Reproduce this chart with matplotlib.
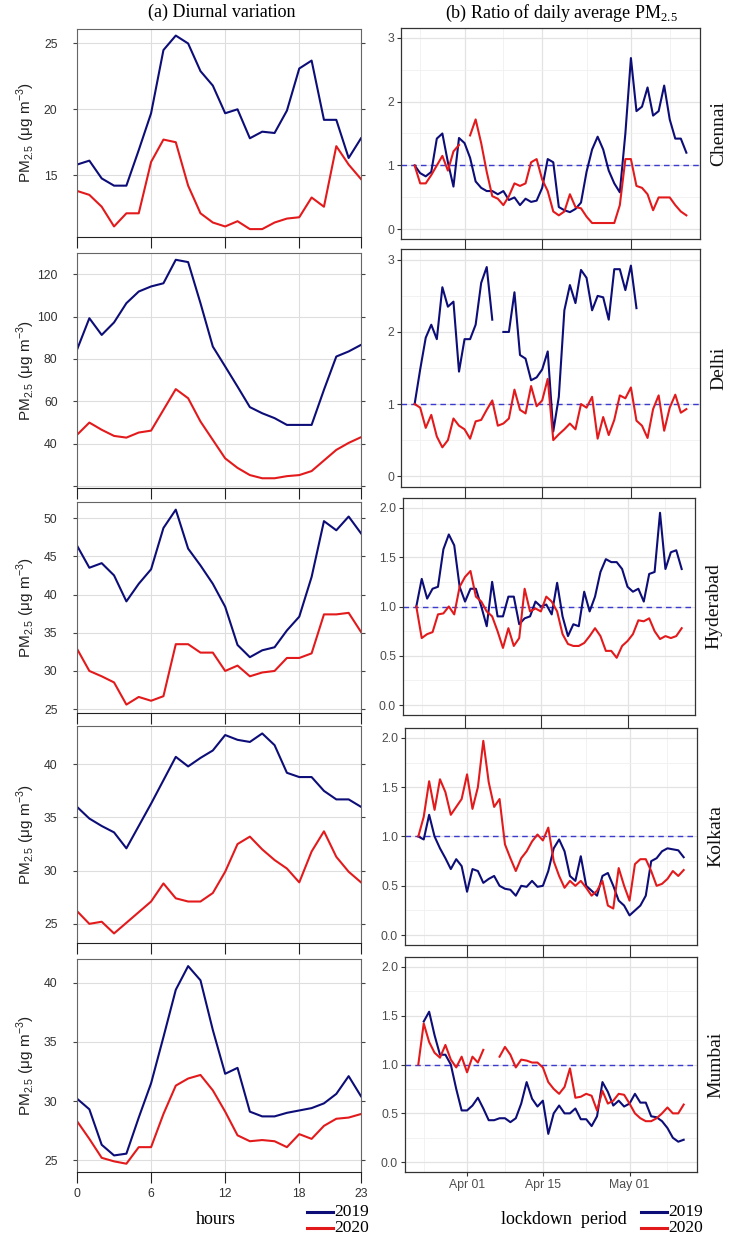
import numpy as np
import pandas as pd
import matplotlib
matplotlib.use("Agg")
import matplotlib.pyplot as plt
import matplotlib.dates as mdates
from matplotlib.lines import Line2D

nan = np.nan

cities = ["Chennai", "Delhi", "Hyderabad", "Kolkata", "Mumbai"]
hours = list(range(24))
days = pd.date_range("2020-03-23", periods=50)

# (a) diurnal PM2.5, ug/m3
chennai_hr_2019 = [15.8, 16.1, 14.75, 14.2, 14.2, 16.9, 19.7, 24.5, 25.6, 25.0, 22.9, 21.8,
                   19.7, 20.0, 17.8, 18.3, 18.2, 19.9, 23.1, 23.7, 19.2, 19.2, 16.3, 17.8]
chennai_hr_2020 = [13.8, 13.5, 12.6, 11.1, 12.1, 12.1, 16.0, 17.7, 17.5, 14.2, 12.1, 11.4,
                   11.1, 11.5, 10.9, 10.9, 11.4, 11.7, 11.8, 13.3, 12.6, 17.2, 15.8, 14.7]
delhi_hr_2019 = [84.3, 99.2, 91.3, 97.2, 106.3, 111.8, 114.2, 115.7, 126.8, 125.7, 106.3, 85.8,
                 76.4, 66.9, 57.2, 54.3, 52.0, 48.8, 48.8, 48.8, 65.4, 81.1, 83.5, 86.6]
delhi_hr_2020 = [44.1, 49.9, 46.5, 43.6, 42.8, 45.2, 46.1, 55.9, 65.7, 61.4, 50.4, 41.7,
                 33.0, 28.5, 25.1, 23.6, 23.6, 24.6, 25.1, 27.0, 32.0, 37.0, 40.3, 43.0]
hyderabad_hr_2019 = [46.4, 43.5, 44.1, 42.5, 39.1, 41.4, 43.3, 48.7, 51.1, 46.0, 43.8, 41.4,
                     38.4, 33.4, 31.8, 32.7, 33.1, 35.3, 37.1, 42.3, 49.6, 48.4, 50.2, 48.0]
hyderabad_hr_2020 = [32.9, 30.0, 29.3, 28.5, 25.6, 26.6, 26.1, 26.7, 33.5, 33.5, 32.4, 32.4,
                     30.0, 30.7, 29.3, 29.8, 30.0, 31.7, 31.7, 32.3, 37.4, 37.4, 37.6, 35.1]
kolkata_hr_2019 = [36.0, 34.9, 34.2, 33.6, 32.1, 34.2, 36.3, 38.5, 40.7, 39.8, 40.6, 41.3,
                   42.75, 42.3, 42.1, 42.9, 41.8, 39.2, 38.8, 38.8, 37.5, 36.7, 36.7, 36.0]
kolkata_hr_2020 = [26.2, 25.0, 25.2, 24.1, 25.1, 26.1, 27.1, 28.8, 27.4, 27.1, 27.1, 27.9,
                   29.9, 32.5, 33.2, 32.0, 31.0, 30.2, 28.9, 31.8, 33.7, 31.3, 29.9, 28.9]
mumbai_hr_2019 = [30.2, 29.3, 26.3, 25.4, 25.55, 28.6, 31.5, 35.4, 39.4, 41.4, 40.2, 36.0,
                  32.3, 32.8, 29.1, 28.7, 28.7, 29.0, 29.2, 29.4, 29.8, 30.6, 32.1, 30.4]
mumbai_hr_2020 = [28.3, 26.8, 25.2, 24.9, 24.7, 26.1, 26.1, 28.9, 31.3, 31.9, 32.2, 30.9,
                  29.1, 27.1, 26.6, 26.7, 26.6, 26.1, 27.2, 26.8, 27.9, 28.5, 28.6, 28.9]

# (b) ratio of daily average PM2.5, 23 Mar - 11 May
chennai_day_2019 = [1.0, 0.88, 0.83, 0.9, 1.42, 1.5, 1.05, 0.67, 1.43, 1.35, 1.12, 0.75, 0.65,
                    0.6, 0.6, 0.55, 0.6, 0.46, 0.5, 0.38, 0.48, 0.43, 0.45, 0.65, 1.1, 1.05, 0.35,
                    0.3, 0.27, 0.32, 0.42, 0.9, 1.25, 1.45, 1.25, 0.92, 0.72, 0.58, 1.5, 2.68,
                    1.85, 1.92, 2.22, 1.78, 1.85, 2.25, 1.72, 1.42, 1.42, 1.2]
chennai_day_2020 = [1.0, 0.72, 0.72, 0.85, 1.0, 1.15, 0.92, 1.22, 1.32, nan, 1.47, 1.72, 1.35,
                    0.9, 0.52, 0.48, 0.38, 0.52, 0.72, 0.68, 0.72, 1.05, 1.1, 0.78, 0.6, 0.28,
                    0.22, 0.28, 0.55, 0.35, 0.33, 0.2, 0.1, 0.1, 0.1, 0.1, 0.1, 0.38, 1.1, 1.1,
                    0.68, 0.65, 0.55, 0.3, 0.5, 0.5, 0.5, 0.38, 0.28, 0.22]
delhi_day_2019 = [1.0, 1.48, 1.92, 2.1, 1.9, 2.62, 2.35, 2.42, 1.45, 1.9, 1.9, 2.1, 2.68, 2.9,
                  2.17, nan, 2.0, 2.0, 2.55, 1.68, 1.63, 1.33, 1.37, 1.48, 1.73, 0.62, 1.1, 2.3,
                  2.65, 2.4, 2.86, 2.75, 2.3, 2.5, 2.48, 2.17, 2.87, 2.87, 2.58, 2.92, 2.33,
                  nan, nan, nan, nan, nan, nan, nan, nan, nan]
delhi_day_2020 = [1.0, 0.95, 0.67, 0.85, 0.55, 0.4, 0.5, 0.8, 0.7, 0.65, 0.52, 0.76, 0.78, 0.92,
                  1.05, 0.7, 0.73, 0.8, 1.2, 0.92, 0.87, 1.25, 0.97, 1.05, 1.35, 0.5, 0.58, 0.65,
                  0.73, 0.65, 1.0, 0.95, 1.1, 0.52, 0.82, 0.57, 0.78, 1.12, 1.08, 1.23, 0.77, 0.7,
                  0.53, 0.93, 1.12, 0.63, 0.95, 1.13, 0.88, 0.93]
hyderabad_day_2019 = [1.0, 1.28, 1.08, 1.18, 1.2, 1.58, 1.73, 1.62, 1.2, 1.05, 1.18, 1.18, 1.0,
                      0.8, 1.25, 0.9, 0.9, 1.1, 1.1, 0.82, 0.88, 0.9, 1.05, 1.0, 1.02, 0.92, 1.24,
                      0.9, 0.7, 0.82, 0.8, 1.15, 0.95, 1.1, 1.35, 1.48, 1.45, 1.45, 1.38, 1.2,
                      1.15, 1.18, 1.05, 1.33, 1.35, 1.95, 1.38, 1.55, 1.57, 1.38]
hyderabad_day_2020 = [1.0, 0.68, 0.72, 0.74, 0.92, 0.93, 1.0, 0.92, 1.2, 1.3, 1.36, 1.1, 1.05,
                      0.95, 0.9, 0.75, 0.58, 0.78, 0.6, 0.68, 1.18, 0.95, 0.98, 0.95, 1.1, 1.05,
                      0.95, 0.72, 0.62, 0.6, 0.6, 0.63, 0.7, 0.78, 0.7, 0.55, 0.55, 0.48, 0.6,
                      0.65, 0.72, 0.86, 0.85, 0.88, 0.75, 0.67, 0.7, 0.68, 0.7, 0.78]
kolkata_day_2019 = [1.0, 0.97, 1.22, 1.0, 0.88, 0.78, 0.67, 0.77, 0.7, 0.44, 0.67, 0.65, 0.53,
                    0.57, 0.6, 0.5, 0.47, 0.46, 0.4, 0.5, 0.49, 0.55, 0.49, 0.5, 0.65, 0.88,
                    0.97, 0.85, 0.6, 0.55, 0.8, 0.5, 0.45, 0.4, 0.6, 0.63, 0.5, 0.35, 0.3, 0.2,
                    0.25, 0.3, 0.4, 0.75, 0.78, 0.85, 0.88, 0.87, 0.86, 0.79]
kolkata_day_2020 = [1.0, 1.2, 1.56, 1.27, 1.58, 1.45, 1.22, 1.3, 1.38, 1.63, 1.28, 1.5, 1.97,
                    1.55, 1.3, 1.38, 0.92, 0.78, 0.65, 0.78, 0.85, 0.95, 1.02, 0.96, 1.09, 0.75,
                    0.6, 0.48, 0.55, 0.5, 0.55, 0.48, 0.4, 0.45, 0.55, 0.3, 0.27, 0.68, 0.5,
                    0.35, 0.72, 0.77, 0.77, 0.65, 0.5, 0.52, 0.57, 0.65, 0.6, 0.66]
mumbai_day_2019 = [nan, 1.44, 1.54, 1.3, 1.1, 1.1, 1.0, 0.75, 0.53, 0.53, 0.58, 0.66, 0.55, 0.43,
                   0.43, 0.45, 0.45, 0.41, 0.45, 0.6, 0.82, 0.65, 0.57, 0.63, 0.29, 0.5, 0.58,
                   0.5, 0.5, 0.55, 0.44, 0.44, 0.37, 0.47, 0.82, 0.72, 0.58, 0.63, 0.57, 0.6,
                   0.7, 0.61, 0.61, 0.47, 0.46, 0.42, 0.35, 0.25, 0.21, 0.23]
mumbai_day_2020 = [1.0, 1.42, 1.23, 1.12, 1.07, 1.2, 1.05, 0.97, 1.08, 0.92, 1.08, 1.02, 1.15,
                   nan, nan, 1.08, 1.18, 1.1, 0.97, 1.05, 1.04, 1.02, 1.02, 0.97, 0.82, 0.75,
                   0.7, 0.77, 0.96, 0.66, 0.67, 0.7, 0.68, 0.53, 0.73, 0.6, 0.63, 0.7, 0.69,
                   0.6, 0.5, 0.45, 0.42, 0.42, 0.45, 0.5, 0.56, 0.5, 0.5, 0.59]

diurnal = [(chennai_hr_2019, chennai_hr_2020), (delhi_hr_2019, delhi_hr_2020),
           (hyderabad_hr_2019, hyderabad_hr_2020), (kolkata_hr_2019, kolkata_hr_2020),
           (mumbai_hr_2019, mumbai_hr_2020)]
ratio = [(chennai_day_2019, chennai_day_2020), (delhi_day_2019, delhi_day_2020),
         (hyderabad_day_2019, hyderabad_day_2020), (kolkata_day_2019, kolkata_day_2020),
         (mumbai_day_2019, mumbai_day_2020)]

left_ylim = [(10.3, 26.1), (19, 130), (24.5, 52.1), (23.2, 43.6), (24, 42)]
left_yticks = [[15, 20, 25], [20, 40, 60, 80, 100, 120], [25, 30, 35, 40, 45, 50],
               [25, 30, 35, 40], [25, 30, 35, 40]]

BLUE = "#0d0d78"
RED = "#e31a1c"
SANS = ["Liberation Sans", "DejaVu Sans"]
SERIF = ["Liberation Serif", "DejaVu Serif"]

W, H = 729, 1237
fig = plt.figure(figsize=(W / 100, H / 100), dpi=100)


def box(x0, y0, x1, y1):
    return fig.add_axes([x0 / W, 1 - y1 / H, (x1 - x0) / W, (y1 - y0) / H])


left_boxes = [(77, 29, 361, 237), (77, 253, 361, 488), (77, 502, 361, 713),
              (77, 726, 361, 943), (77, 959, 361, 1172)]
right_boxes = [(401, 28, 700, 239), (401, 249, 700, 487), (403, 498, 695, 715),
               (405, 728, 697, 945), (405, 957, 697, 1172)]

ylab = "PM$_\\mathregular{2.5}$ (μg m$^\\mathregular{-3}$)"

for i in range(5):
    # left: diurnal
    ax = box(*left_boxes[i])
    y19, y20 = diurnal[i]
    ax.plot(hours, y19, color=BLUE, lw=1.5)
    ax.plot(hours, y20, color=RED, lw=1.5)
    ax.set_xlim(0, 23)
    ax.set_ylim(*left_ylim[i])
    ax.set_xticks([0, 6, 12, 18, 23])
    ax.set_yticks(left_yticks[i])
    labels = [str(v) for v in left_yticks[i]]
    if i == 1:
        labels[0] = ""
    ax.set_yticklabels(labels, family=SANS, fontsize=8.8, color="#333333")
    ax.grid(True, color="#dedede", lw=0.8)
    ax.set_axisbelow(True)
    for s in ["top", "left", "right"]:
        ax.spines[s].set_color("#666666")
    ax.spines["bottom"].set_color("#222222")
    ax.tick_params(axis="y", length=3, color="#444444", right=True, pad=11)
    ax.tick_params(axis="x", length=8, color="#222222", direction="out")
    if i == 4:
        ax.set_xticklabels(["0", "6", "12", "18", "23"], family=SANS, fontsize=8.8,
                           color="#333333")
    else:
        ax.set_xticklabels([])
    ax.set_ylabel(ylab, family=SANS, fontsize=11, color="#222222")
    ax.yaxis.set_label_coords(-0.14, 0.5)

    # right: daily ratio
    ax = box(*right_boxes[i])
    r19, r20 = ratio[i]
    ax.axhline(1, color="#3b3bd0", lw=1, ls=(0, (4, 3)))
    ax.plot(days, r19, color=BLUE, lw=1.5)
    ax.plot(days, r20, color=RED, lw=1.5)
    ax.set_xlim(pd.Timestamp("2020-03-20 13:00"), pd.Timestamp("2020-05-13 11:00"))
    if i < 2:
        ax.set_ylim(-0.15, 3.15)
        ax.set_yticks([0, 1, 2, 3])
        ax.set_yticks([0.5, 1.5, 2.5], minor=True)
        ax.set_yticklabels(["0", "1", "2", "3"])
    else:
        ax.set_ylim(-0.1, 2.1)
        ax.set_yticks([0, 0.5, 1, 1.5, 2])
        ax.set_yticks([0.25, 0.75, 1.25, 1.75], minor=True)
        ax.set_yticklabels(["0.0", "0.5", "1.0", "1.5", "2.0"])
    major_days = pd.to_datetime(["2020-04-01", "2020-04-15", "2020-05-01"])
    minor_days = pd.to_datetime(["2020-03-24", "2020-04-08", "2020-04-23", "2020-05-08"])
    ax.set_xticks(major_days)
    ax.set_xticks(minor_days, minor=True)
    ax.xaxis.set_major_formatter(mdates.DateFormatter("%b %d"))
    ax.grid(True, which="major", color="#e3e3e3", lw=0.9)
    ax.grid(True, which="minor", color="#f0f0f0", lw=0.6)
    ax.set_axisbelow(True)
    for s in ax.spines.values():
        s.set_color("#333333")
        s.set_linewidth(0.9)
    ax.tick_params(which="minor", length=0)
    ax.tick_params(which="major", length=3, color="#333333", labelcolor="#4d4d4d",
                   labelsize=8.8, pad=2)
    for lab in ax.get_yticklabels() + ax.get_xticklabels():
        lab.set_family(SANS)
    if i < 4:
        ax.set_xticklabels([])
        ax.tick_params(axis="x", length=9)
    ax.text(1.035, 0.5, cities[i], transform=ax.transAxes, rotation=90, ha="left",
            va="center", family=SERIF, fontsize=14, color="#111111")

# titles
fig.text(222 / W, 1 - 12 / H, "(a) Diurnal variation", ha="center", va="center",
         family=SERIF, fontsize=13)
fig.text(561 / W, 1 - 13 / H, "(b) Ratio of daily average PM$_\\mathregular{2.5}$",
         ha="center", va="center", family=SERIF, fontsize=13)

# bottom labels
fig.text(216 / W, 1 - 1220 / H, "hours", ha="center", va="center", family=SERIF,
         fontsize=13)
fig.text(564 / W, 1 - 1220 / H, "lockdown  period", ha="center", va="center",
         family=SERIF, fontsize=13)

# legends
for lx0, lx1 in [(307, 333), (641, 667)]:
    for yy, col, yr in [(1212, BLUE, "2019"), (1228, RED, "2020")]:
        fig.add_artist(Line2D([lx0 / W, lx1 / W], [1 - yy / H, 1 - yy / H], color=col,
                              lw=2.2, transform=fig.transFigure))
        fig.text((lx1 + 1) / W, 1 - yy / H, yr, ha="left", va="center", family=SERIF,
                 fontsize=12.5)

fig.savefig("out.png", dpi=100)
